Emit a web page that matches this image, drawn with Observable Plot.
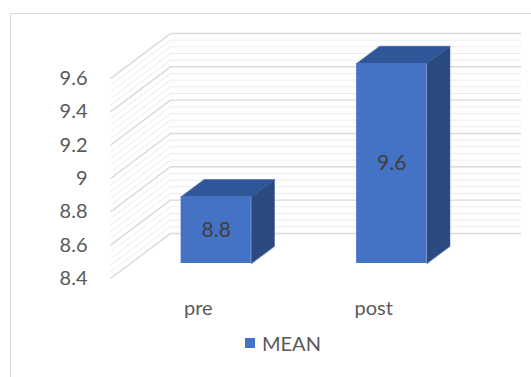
<!DOCTYPE html>
<html>
<head>
<meta charset="utf-8">
<script src="https://cdn.jsdelivr.net/npm/d3@7"></script>
<script src="https://cdn.jsdelivr.net/npm/@observablehq/plot@0.6"></script>
<style>
  html, body { margin: 0; padding: 0; background: #fff; overflow: hidden; }
  #wrap { position: relative; width: 531px; height: 377px; font-family: Lato, "Open Sans", sans-serif; }
  #frame { position: absolute; left: 10px; top: 13px; width: 560px; height: 400px; border: 1.5px solid #D9D9D9; box-sizing: border-box; pointer-events: none; }
  #chart { position: absolute; left: 0; top: 0; }
  #legend { position: absolute; left: 245px; top: 325px; height: 36px; display: flex; align-items: center; gap: 7px; color: #595959; font-size: 20px; }
  #legend .sw { width: 10px; height: 10px; background: #4472C4; }
</style>
</head>
<body>
<div id="wrap">
  <div id="frame"></div>
  <div id="chart"></div>
  <div id="legend"><span class="sw"></span><span id="legend-label"></span></div>
</div>
<script>
// ---- data ----
const categories = ["pre", "post"];
const means = [8.8, 9.6];
const yTicks = [8.4, 8.6, 8.8, 9.0, 9.2, 9.4, 9.6];
const seriesName = "MEAN";

// ---- 3D oblique projection constants (in data units) ----
const BASE = 8.4;
const TOP = 9.6;
const DX = 0.342;   // wall depth along x (category units)
const DY = 0.2705;  // wall depth along y (value units)
const FRONT_X = 0.3, FRONT_Y = 1 / 3; // bar front depth fraction
const DEPTH = 0.385; // bar depth fraction
const HALF = 0.2;   // half bar width (category units)

const minorTicks = d3.range(0, 31).map(i => +(BASE + i * 0.04).toFixed(2))
  .filter(v => !yTicks.some(t => Math.abs(t - v) < 1e-6));

const bars = categories.map((c, i) => ({ category: c, i, value: means[i] }));
const P = (x, y, d, key) => ({ x: x + (FRONT_X + d) * DX, y: y + (FRONT_Y + d) * DY, key });

const topFaces = bars.flatMap(b => {
  const xl = b.i + 0.5 - HALF, xr = b.i + 0.5 + HALF, k = "top" + b.i;
  return [P(xl, b.value, 0, k), P(xr, b.value, 0, k), P(xr, b.value, DEPTH, k), P(xl, b.value, DEPTH, k)];
});
const sideFaces = bars.flatMap(b => {
  const xr = b.i + 0.5 + HALF, k = "side" + b.i;
  return [P(xr, BASE, 0, k), P(xr, b.value, 0, k), P(xr, b.value, DEPTH, k), P(xr, BASE, DEPTH, k)];
});

const gridMarks = (ticks, color, width) => [
  Plot.ruleY(ticks, { y: d => d + DY, x1: () => DX, x2: () => categories.length + DX, stroke: color, strokeWidth: width }),
  Plot.link(ticks, { x1: () => 0, y1: d => d, x2: () => DX, y2: d => d + DY, stroke: color, strokeWidth: width })
];

const chart = Plot.plot({
  width: 531,
  height: 325,
  marginLeft: 110,
  marginRight: 10,
  marginTop: 33,
  marginBottom: 47,
  style: { fontFamily: "Lato, 'Open Sans', sans-serif", background: "transparent", overflow: "visible" },
  x: { type: "linear", domain: [0, categories.length + DX] },
  y: { domain: [BASE, TOP + DY] },
  marks: [
    ...gridMarks(minorTicks, "#ECECEC", 1),
    ...gridMarks(yTicks, "#D9D9D9", 1.4),
    Plot.axisY(yTicks, {
      anchor: "left", tickSize: 0, tickPadding: 23, label: null,
      tickFormat: d => String(+d.toFixed(1)), fontSize: 20, color: "#595959"
    }),
    Plot.axisX([0.5, 1.5], {
      anchor: "bottom", tickSize: 0, tickPadding: 22, label: null,
      tickFormat: d => categories[Math.floor(d)], fontSize: 20, color: "#595959"
    }),
    Plot.line(sideFaces, { x: "x", y: "y", z: "key", fill: "#2A4A80", stroke: "#2A4A80", strokeWidth: 0.5, curve: "linear-closed" }),
    Plot.line(topFaces, { x: "x", y: "y", z: "key", fill: "#30569A", stroke: "#30569A", strokeWidth: 0.5, curve: "linear-closed" }),
    Plot.rect(bars, {
      x1: d => d.i + 0.5 - HALF + FRONT_X * DX,
      x2: d => d.i + 0.5 + HALF + FRONT_X * DX,
      y1: () => BASE + FRONT_Y * DY,
      y2: d => d.value + FRONT_Y * DY,
      fill: "#4472C4"
    }),
    Plot.text(bars, {
      x: d => d.i + 0.5 + FRONT_X * DX,
      y: d => (BASE + d.value) / 2 + FRONT_Y * DY,
      text: d => String(d.value),
      fill: "#404040",
      fontSize: 21
    })
  ]
});
document.getElementById("chart").appendChild(chart);
document.getElementById("legend-label").textContent = seriesName;
</script>
</body>
</html>
